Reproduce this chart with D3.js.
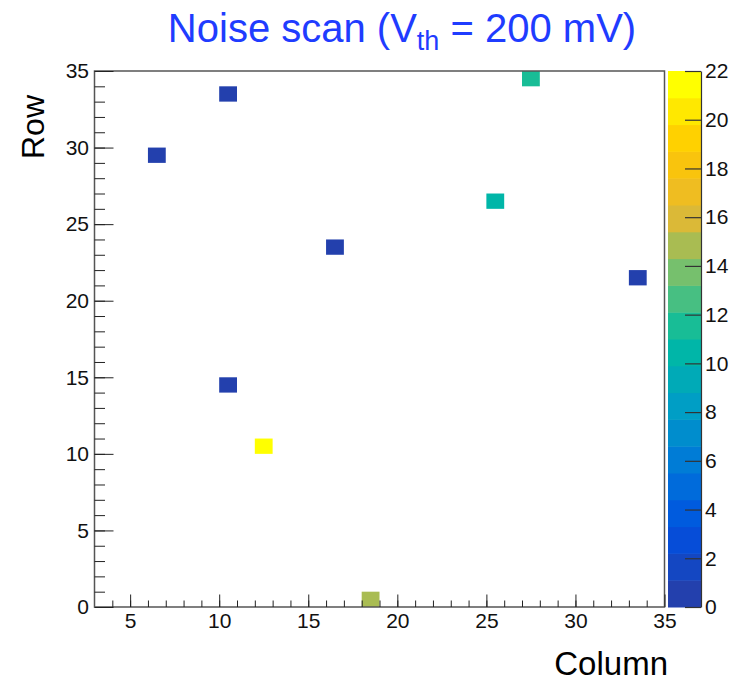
<!DOCTYPE html>
<html>
<head>
<meta charset="utf-8">
<script src="https://cdn.jsdelivr.net/npm/d3@7"></script>
<style>
  html, body { margin: 0; padding: 0; background: #fff; }
  svg { display: block; }
  text { font-family: "Liberation Sans", Arial, Helvetica, sans-serif; }
</style>
</head>
<body>
<svg id="chart" width="731" height="682"></svg>
<script>
// pixel hits: bin lower edges (column, row) and counts
const columns = [6, 10, 27, 25, 16, 33, 10, 12, 18];
const rows    = [29, 33, 34, 26, 23, 21, 14, 10, 0];
const counts  = [1, 1, 12, 10, 1, 1, 1, 21, 15];

const xTicks = [5, 10, 15, 20, 25, 30, 35];
const yTicks = [0, 5, 10, 15, 20, 25, 30, 35];
const zTicks = [0, 2, 4, 6, 8, 10, 12, 14, 16, 18, 20, 22];

const xDomain = [3, 35];
const yDomain = [0, 35];
const zDomain = [0, 22];
const nContours = 20;

const frame = { left: 94.5, right: 664.5, top: 71, bottom: 607 };
const pal = { left: 668, right: 701 };

const svg = d3.select("#chart");

const x = d3.scaleLinear().domain(xDomain).range([frame.left, frame.right]);
const y = d3.scaleLinear().domain(yDomain).range([frame.bottom, frame.top]);
const z = d3.scaleLinear().domain(zDomain).range([frame.bottom, frame.top]);

// palette look, roughly ROOT kBird as it shows in the picture
const birdStops = [0, 0.125, 0.25, 0.375, 0.5, 0.625, 0.75, 0.875, 1];
const birdColors = ["#2340ad", "#0050e0", "#0078d8", "#00a0c4", "#00bca0",
                    "#70c070", "#e8b830", "#ffc800", "#ffff00"];
const bird = d3.scaleLinear().domain(birdStops).range(birdColors).interpolate(d3.interpolateRgb);

const step = (zDomain[1] - zDomain[0]) / nContours;
const bandColor = i => bird(i / (nContours - 1));
const colorOf = v => bandColor(Math.min(nContours - 1, Math.floor((v - zDomain[0]) / step)));

// cells
const cells = columns.map((c, i) => ({ c, r: rows[i], v: counts[i] }));
svg.append("g").selectAll("rect")
  .data(cells)
  .enter().append("rect")
  .attr("x", d => x(d.c))
  .attr("y", d => y(d.r + 1))
  .attr("width", d => x(d.c + 1) - x(d.c))
  .attr("height", d => y(d.r) - y(d.r + 1))
  .attr("fill", d => colorOf(d.v));

// frame
svg.append("rect")
  .attr("x", frame.left).attr("y", frame.top)
  .attr("width", frame.right - frame.left).attr("height", frame.bottom - frame.top)
  .attr("fill", "none").attr("stroke", "#555").attr("stroke-width", 1.5);

function styleAxis(g) {
  g.select(".domain").remove();
  g.selectAll("line").attr("stroke", "#222");
  g.selectAll("text").attr("font-size", 21).attr("fill", "#111")
    .style("font-family", '"Liberation Sans", Arial, Helvetica, sans-serif');
}

// x axis: minor then major
svg.append("g")
  .attr("transform", `translate(0,${frame.bottom})`)
  .call(d3.axisBottom(x).tickValues(d3.range(4, 35)).tickSize(-6.5).tickFormat(""))
  .call(styleAxis);
svg.append("g")
  .attr("transform", `translate(0,${frame.bottom})`)
  .call(d3.axisBottom(x).tickValues(xTicks).tickSize(-12.5).tickPadding(6))
  .call(styleAxis);

// y axis
svg.append("g")
  .attr("transform", `translate(${frame.left},0)`)
  .call(d3.axisLeft(y).tickValues(d3.range(1, 35)).tickSize(-10.5).tickFormat(""))
  .call(styleAxis);
svg.append("g")
  .attr("transform", `translate(${frame.left},0)`)
  .call(d3.axisLeft(y).tickValues(yTicks).tickSize(-19).tickPadding(5.5))
  .call(styleAxis);

// colour palette
svg.append("g").selectAll("rect")
  .data(d3.range(nContours))
  .enter().append("rect")
  .attr("x", pal.left)
  .attr("y", i => z(zDomain[0] + (i + 1) * step))
  .attr("width", pal.right - pal.left)
  .attr("height", i => z(zDomain[0] + i * step) - z(zDomain[0] + (i + 1) * step) + 0.5)
  .attr("fill", i => bandColor(i));

const zAxis = svg.append("g")
  .attr("transform", `translate(${pal.right},0)`)
  .call(d3.axisRight(z).tickValues(zTicks).tickSize(-16).tickSizeOuter(0).tickPadding(4));
zAxis.select(".domain").attr("stroke", "#333").attr("stroke-width", 1.2);
zAxis.selectAll("line").attr("stroke", "#333").attr("stroke-width", 1.2);
zAxis.selectAll("text").attr("font-size", 21).attr("fill", "#111")
  .style("font-family", '"Liberation Sans", Arial, Helvetica, sans-serif');

// titles
const title = svg.append("text")
  .attr("x", 402).attr("y", 42)
  .attr("text-anchor", "middle")
  .attr("font-size", 40)
  .attr("fill", "#1f3cff");
title.append("tspan").text("Noise scan (V");
title.append("tspan").attr("font-size", 27).attr("dy", 8).text("th");
title.append("tspan").attr("dy", -8).text(" = 200 mV)");

svg.append("text")
  .attr("x", 668).attr("y", 675)
  .attr("text-anchor", "end")
  .attr("font-size", 33)
  .attr("fill", "#000")
  .text("Column");

svg.append("text")
  .attr("transform", "translate(44,127) rotate(-90)")
  .attr("text-anchor", "middle")
  .attr("font-size", 32)
  .attr("fill", "#000")
  .text("Row");
</script>
</body>
</html>
